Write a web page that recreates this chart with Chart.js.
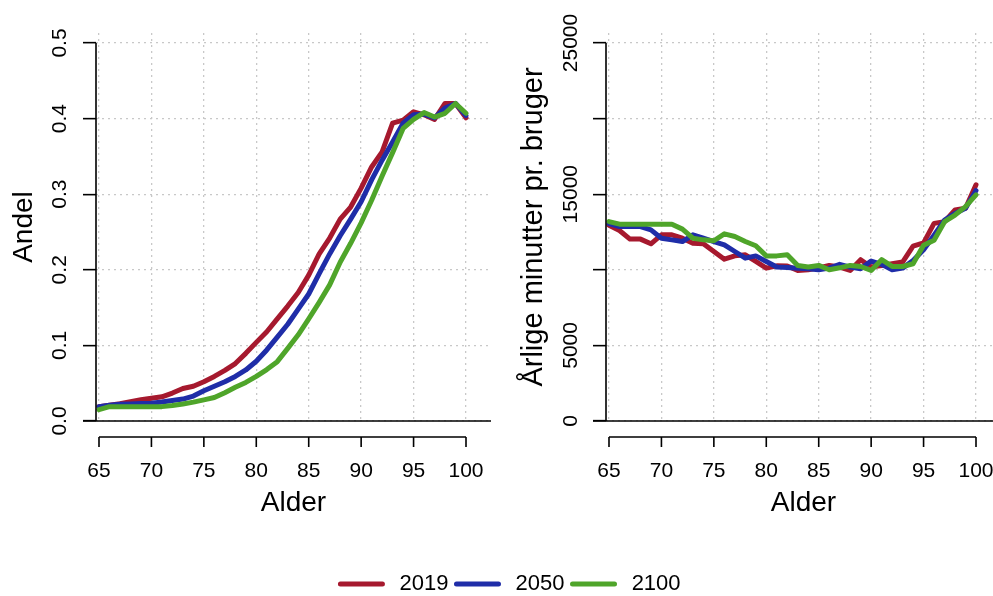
<!DOCTYPE html>
<html>
<head>
<meta charset="utf-8">
<script src="https://cdn.jsdelivr.net/npm/chart.js@4.4.1/dist/chart.umd.min.js"></script>
<style>
  html, body { margin: 0; padding: 0; background: #fff; overflow: hidden; width: 993px; height: 596px; }
  canvas { position: absolute; }
  #cLeft { left: 0; top: 0; }
  #cRight { left: 510px; top: 0; }
  #cLegend { left: 14px; top: 400px; }
</style>
</head>
<body>
<canvas id="cLeft" width="500" height="540"></canvas>
<canvas id="cRight" width="500" height="540"></canvas>
<canvas id="cLegend" width="993" height="240"></canvas>
<script>
const ages = [65, 66, 67, 68, 69, 70, 71, 72, 73, 74, 75, 76, 77, 78, 79, 80, 81, 82,
  83, 84, 85, 86, 87, 88, 89, 90, 91, 92, 93, 94, 95, 96, 97, 98, 99, 100];

// Andel
const andel2019 = [0.019, 0.021, 0.023, 0.0255, 0.028, 0.030, 0.032, 0.037, 0.043, 0.046, 0.052, 0.059,
  0.067, 0.076, 0.0895, 0.104, 0.118, 0.135, 0.152, 0.170, 0.193, 0.221, 0.242, 0.267,
  0.283, 0.308, 0.336, 0.356, 0.394, 0.398, 0.409, 0.405, 0.399, 0.420, 0.420, 0.401];
const andel2050 = [0.019, 0.021, 0.022, 0.0225, 0.023, 0.0235, 0.025, 0.027, 0.029, 0.033, 0.040, 0.046,
  0.052, 0.059, 0.0675, 0.079, 0.094, 0.111, 0.128, 0.148, 0.168, 0.195, 0.221, 0.245,
  0.267, 0.290, 0.319, 0.345, 0.369, 0.394, 0.405, 0.406, 0.401, 0.414, 0.420, 0.404];
const andel2100 = [0.015, 0.019, 0.019, 0.019, 0.019, 0.019, 0.019, 0.0205, 0.0225, 0.025, 0.028, 0.031,
  0.0375, 0.0445, 0.051, 0.059, 0.068, 0.0785, 0.096, 0.114, 0.135, 0.157, 0.180, 0.210,
  0.235, 0.262, 0.292, 0.324, 0.355, 0.387, 0.399, 0.408, 0.402, 0.407, 0.420, 0.407];

// Årlige minutter pr. bruger
const min2019 = [12950, 12600, 12030, 12030, 11720, 12310, 12310, 12090, 11760, 11720, 11210, 10700,
  10920, 10990, 10550, 10110, 10260, 10250, 9960, 10000, 10130, 10290, 10180, 9960,
  10670, 10180, 10290, 10400, 10510, 11560, 11780, 13070, 13180, 13960, 14070, 15620];
const min2050 = [13050, 12860, 12860, 12860, 12640, 12090, 11980, 11870, 12310, 12090, 11870, 11650,
  11210, 10770, 10920, 10550, 10180, 10150, 10110, 10070, 10000, 10110, 10360, 10180,
  10070, 10580, 10360, 10000, 10110, 10620, 11330, 12290, 13290, 13730, 14070, 15240];
const min2100 = [13190, 13020, 13020, 13020, 13020, 13020, 13020, 12690, 12090, 11980, 11920, 12380,
  12200, 11870, 11590, 10920, 10920, 11000, 10290, 10180, 10290, 10000, 10130, 10290,
  10220, 9960, 10670, 10220, 10220, 10400, 11620, 11960, 13180, 13620, 14180, 14960];

const years = ["2019", "2050", "2100"];
const colors = ["#A6192E", "#1F2DA8", "#4FA52A"];

const xTicks = [65, 70, 75, 80, 85, 90, 95, 100];
const andelTicks = [0, 0.1, 0.2, 0.3, 0.4, 0.5];
const andelLabels = ["0.0", "0.1", "0.2", "0.3", "0.4", "0.5"];
const minTicks = [0, 5000, 10000, 15000, 20000, 25000];
const minLabels = ["0", "5000", "", "15000", "", "25000"]; // R drops overlapping labels

const font = "'Liberation Sans', Arial, sans-serif";
Chart.defaults.font.family = font;
Chart.defaults.color = "#000";

// R-style axes: y axis line between first and last tick, offset x axis below the plot
const rAxes = {
  id: "rAxes",
  afterDraw(chart, args, opts) {
    const { ctx, chartArea } = chart;
    const xs = chart.scales.x, ys = chart.scales.y;
    const yTop = ys.getPixelForValue(opts.yTicks[opts.yTicks.length - 1]);
    const yBot = ys.getPixelForValue(opts.yTicks[0]);
    const axY = chartArea.bottom + 16;
    ctx.save();
    ctx.strokeStyle = "#000";
    ctx.lineWidth = 1.6;
    ctx.beginPath();
    ctx.moveTo(chartArea.left, yTop);
    ctx.lineTo(chartArea.left, yBot);
    ctx.moveTo(chartArea.left - 13, yBot);
    ctx.lineTo(chartArea.right, yBot);
    ctx.moveTo(xs.getPixelForValue(xTicks[0]), axY);
    ctx.lineTo(xs.getPixelForValue(xTicks[xTicks.length - 1]), axY);
    xTicks.forEach((t) => {
      const px = xs.getPixelForValue(t);
      ctx.moveTo(px, axY);
      ctx.lineTo(px, axY + 10);
    });
    ctx.stroke();
    ctx.restore();
  },
};

function makeDatasets(seriesList) {
  return seriesList.map((vals, i) => ({
    label: years[i],
    data: ages.map((a, j) => ({ x: a, y: vals[j] })),
    borderColor: colors[i],
    backgroundColor: colors[i],
    borderWidth: 5,
    borderJoinStyle: "round",
    borderCapStyle: "round",
    pointRadius: 0,
    tension: 0,
    order: seriesList.length - i, // green drawn on top
  }));
}

function panel(id, seriesList, yMax, yTicks, yLabels, yTitle, titleSize, tickPad) {
  return new Chart(document.getElementById(id), {
    type: "line",
    data: { datasets: makeDatasets(seriesList) },
    plugins: [rAxes],
    options: {
      responsive: false,
      animation: false,
      layout: { padding: { left: 0, top: 33, right: 9, bottom: 0 } },
      plugins: {
        legend: { display: false },
        tooltip: { enabled: false },
        rAxes: { yTicks: yTicks },
      },
      scales: {
        x: {
          type: "linear",
          min: 64.714,
          max: 102.384,
          afterBuildTicks: (s) => { s.ticks = xTicks.map((v) => ({ value: v })); },
          afterFit: (s) => { s.height = 119; s.paddingLeft = 0; s.paddingRight = 0; },
          grid: { color: "#c8c8c8", lineWidth: 1.3, drawTicks: false },
          border: { display: false, dash: [2, 4] },
          ticks: { color: "#000", font: { size: 21 }, padding: 38, maxRotation: 0, autoSkip: false },
          title: { display: true, text: "Alder", color: "#000", font: { size: 28 }, padding: { top: 0, bottom: 20 } },
        },
        y: {
          type: "linear",
          min: 0,
          max: yMax,
          afterBuildTicks: (s) => { s.ticks = yTicks.map((v) => ({ value: v })); },
          afterFit: (s) => { s.width = 96; s.paddingTop = 0; s.paddingBottom = 0; },
          grid: { color: "#c8c8c8", lineWidth: 1.3, tickLength: 13, tickColor: "#000", tickWidth: 1.6 },
          border: { display: false, dash: [2, 4] },
          ticks: {
            color: "#000",
            font: { size: 21 },
            minRotation: 90,
            maxRotation: 90,
            crossAlign: "center",
            padding: tickPad,
            autoSkip: false,
            callback: (v, i) => yLabels[i],
          },
          title: { display: true, text: yTitle, color: "#000", font: { size: titleSize }, padding: { top: 7, bottom: 0 } },
        },
      },
    },
  });
}

panel("cLeft", [andel2019, andel2050, andel2100], 0.5132, andelTicks, andelLabels, "Andel", 28, 8.4);
panel("cRight", [min2019, min2050, min2100], 25661, minTicks, minLabels, "Årlige minutter pr. bruger", 29, -7.5);

// shared legend underneath both panels
new Chart(document.getElementById("cLegend"), {
  type: "line",
  data: {
    datasets: years.map((y, i) => ({
      label: y,
      data: [],
      borderColor: colors[i],
      backgroundColor: colors[i],
      borderWidth: 5,
      borderCapStyle: "round",
    })),
  },
  options: {
    responsive: false,
    animation: false,
    layout: { padding: { bottom: 35 } },
    scales: { x: { display: false }, y: { display: false } },
    plugins: {
      tooltip: { enabled: false },
      legend: {
        position: "bottom",
        labels: {
          color: "#000",
          font: { size: 22 },
          usePointStyle: true,
          pointStyle: "line",
          pointStyleWidth: 42,
          padding: 8,
          generateLabels: (chart) =>
            Chart.defaults.plugins.legend.labels.generateLabels(chart).map((l) => ({
              ...l,
              text: " " + l.text,
              lineWidth: 5,
              lineCap: "round",
              pointStyle: "line",
            })),
        },
      },
    },
  },
});
</script>
</body>
</html>
